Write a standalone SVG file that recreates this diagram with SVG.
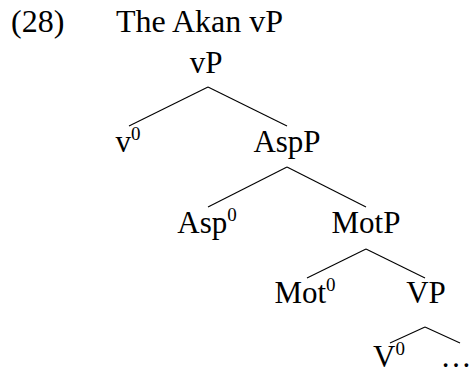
<svg xmlns="http://www.w3.org/2000/svg" width="474" height="374" viewBox="0 0 474 374">
<style>
text{font-family:"Liberation Serif","DejaVu Serif",serif;font-size:31px;fill:#000}
.t{font-size:32px}
.n{text-anchor:middle}
.sup{font-size:19px}
line{stroke:#000;stroke-width:1.1}
</style>
<rect width="474" height="374" fill="#fff"/>
<g id="title">
<text class="t" x="11" y="32">(28)</text>
<text class="t" x="116" y="32">The Akan vP</text>
</g>
<g id="connectors">
<line x1="208" y1="87" x2="129" y2="126"/>
<line x1="208" y1="87" x2="287" y2="126"/>
<line x1="287" y1="167" x2="208" y2="207"/>
<line x1="287" y1="167" x2="366" y2="207"/>
<line x1="366" y1="249" x2="307" y2="278"/>
<line x1="366" y1="249" x2="425" y2="278"/>
<line x1="425" y1="327" x2="390" y2="343"/>
<line x1="425" y1="327" x2="460" y2="343"/>
</g>
<g id="vP"><text class="n" x="206" y="73">vP</text></g>
<g id="v0"><text class="n" x="128" y="152">v<tspan class="sup" dy="-12">0</tspan></text></g>
<g id="AspP"><text class="n" x="287" y="152">AspP</text></g>
<g id="Asp0"><text class="n" x="207" y="233">Asp<tspan class="sup" dy="-12">0</tspan></text></g>
<g id="MotP"><text class="n" x="366" y="233">MotP</text></g>
<g id="Mot0"><text class="n" x="305" y="303">Mot<tspan class="sup" dy="-12">0</tspan></text></g>
<g id="VP"><text class="n" x="426" y="303">VP</text></g>
<g id="V0"><text class="n" x="389" y="367">V<tspan class="sup" dy="-12">0</tspan></text></g>
<g id="dots"><text class="n" x="456" y="367">…</text></g>
</svg>
